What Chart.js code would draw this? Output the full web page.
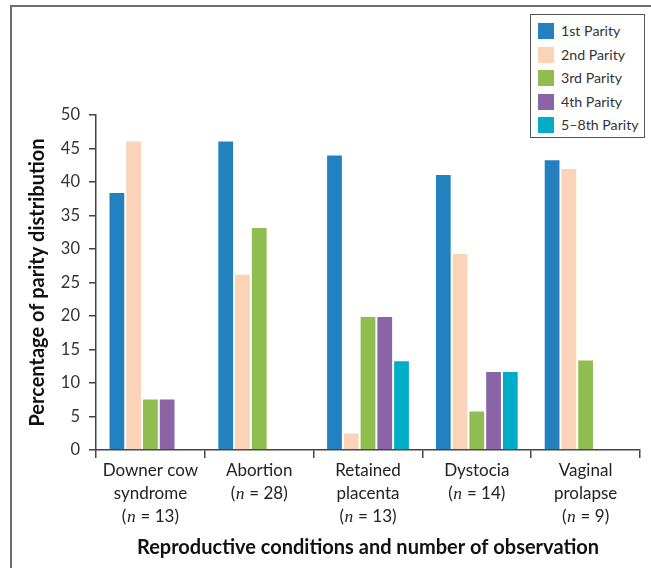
<!DOCTYPE html>
<html>
<head>
<meta charset="utf-8">
<script src="https://cdn.jsdelivr.net/npm/chart.js@4"></script>
<style>
  body { margin: 0; background: #fff; }
  #wrap { position: relative; width: 651px; height: 568px; overflow: hidden; }
  #frame { position: absolute; left: 10px; top: 5px; right: -10px; bottom: -10px;
           border-left: 2px solid #6e6e6e; border-top: 2px solid #6e6e6e; }
  #legend { position: absolute; left: 530px; top: 14px; width: 113px; height: 122px;
            border: 1.5px solid #555; background: #fff; font-family: Lato, sans-serif;
            font-size: 14.2px; color: #333; }
  .item { position: absolute; left: 7px; height: 16px; line-height: 16px; white-space: nowrap; }
  .item span { display: inline-block; width: 16px; height: 16px; vertical-align: top; margin-right: 7px; }
  canvas { position: absolute; left: 0; top: 0; }
</style>
</head>
<body>
<div id="wrap">
  <div id="frame"></div>
  <canvas id="chart" width="651" height="568"></canvas>
  <div id="legend"></div>
</div>
<script>
const categories = [
  ["Downer cow", "syndrome", "(n = 13)"],
  ["Abortion", "(n = 28)"],
  ["Retained", "placenta", "(n = 13)"],
  ["Dystocia", "(n = 14)"],
  ["Vaginal", "prolapse", "(n = 9)"]
];
const seriesNames = ["1st Parity", "2nd Parity", "3rd Parity", "4th Parity", "5\u20138th Parity"];
const seriesColors = ["#2481c0", "#fbd3b8", "#8fbd4f", "#8a64a6", "#00adc8"];
const parity1 = [38.5, 46.2, 44.1, 41.2, 43.4];
const parity2 = [46.2, 26.3, 2.6, 29.4, 42.1];
const parity3 = [7.7, 33.3, 20.0, 5.9, 13.5];
const parity4 = [7.7, null, 20.0, 11.8, null];
const parity5 = [null, null, 13.4, 11.8, null];
const yTicks = [0, 5, 10, 15, 20, 25, 30, 35, 40, 45, 50];

const allSeries = [parity1, parity2, parity3, parity4, parity5];

// legend as html, drawn from the same names/colours
const legend = document.getElementById("legend");
seriesNames.forEach((name, i) => {
  const d = document.createElement("div");
  d.className = "item";
  d.style.top = (8 + i * 23.5) + "px";
  d.innerHTML = '<span style="background:' + seriesColors[i] + '"></span>' + name;
  legend.appendChild(d);
});

const labelFont = "17px Lato, sans-serif";
const nFont = "italic 17.5px 'Liberation Serif', serif";

// draws the x labels with an italic n
const xLabelPlugin = {
  id: "xLabels",
  afterDraw(chart) {
    const ctx = chart.ctx;
    const x = chart.scales.x;
    ctx.save();
    ctx.fillStyle = "#222";
    ctx.textBaseline = "middle";
    categories.forEach((lines, i) => {
      const cx = x.getPixelForValue(i);
      lines.forEach((line, j) => {
        const y = x.top + 21 + j * 23;
        const m = line.match(/^\(n( = .*)$/);
        if (m) {
          ctx.font = labelFont;
          const w1 = ctx.measureText("(").width;
          const w3 = ctx.measureText(m[1]).width;
          ctx.font = nFont;
          const w2 = ctx.measureText("n").width + 1;
          const sx = cx - (w1 + w2 + w3) / 2;
          ctx.textAlign = "left";
          ctx.font = labelFont;
          ctx.fillText("(", sx, y);
          ctx.font = nFont;
          ctx.fillText("n", sx + w1 + 0.5, y);
          ctx.font = labelFont;
          ctx.fillText(m[1], sx + w1 + w2, y);
        } else {
          ctx.font = labelFont;
          ctx.textAlign = "center";
          ctx.fillText(line, cx, y);
        }
      });
    });
    ctx.restore();
  }
};

new Chart(document.getElementById("chart"), {
  type: "bar",
  data: {
    labels: categories,
    datasets: allSeries.map((data, i) => ({
      label: seriesNames[i],
      data: data,
      backgroundColor: seriesColors[i],
      borderColor: "rgba(255,255,255,0.35)",
      borderWidth: 1,
      categoryPercentage: 0.77,
      barPercentage: 1.0
    }))
  },
  options: {
    responsive: false,
    animation: false,
    layout: { padding: { top: 115, right: 11, left: 0, bottom: 0 } },
    plugins: { legend: { display: false }, tooltip: { enabled: false } },
    scales: {
      x: {
        afterFit: (scale) => { scale.height = 118; },
        grid: { display: true, drawOnChartArea: false, offset: true, color: "#444", tickLength: 8, lineWidth: 1.5 },
        border: { color: "#444", width: 1.5 },
        ticks: { color: "rgba(0,0,0,0)", font: { family: "Lato", size: 17 }, padding: 4, maxRotation: 0 },
        title: {
          display: true,
          text: "Reproductive conditions and number of observation",
          font: { family: "Lato", size: 20, weight: "bold" },
          color: "#111",
          padding: { top: 0, bottom: 8 }
        }
      },
      y: {
        min: 0,
        max: 50,
        afterFit: (scale) => { scale.width = 96; },
        afterBuildTicks: (scale) => { scale.ticks = yTicks.map(v => ({ value: v })); },
        grid: { display: true, drawOnChartArea: false, color: "#444", tickLength: 7, lineWidth: 1.5 },
        border: { color: "#444", width: 1.5 },
        ticks: { color: "#333", font: { family: "Lato", size: 16.5 }, padding: 9 },
        title: {
          display: true,
          text: "Percentage of parity distribution",
          font: { family: "Lato", size: 20, weight: "bold" },
          color: "#111",
          padding: { top: 26, bottom: 0 }
        }
      }
    }
  },
  plugins: [xLabelPlugin]
});
</script>
</body>
</html>
